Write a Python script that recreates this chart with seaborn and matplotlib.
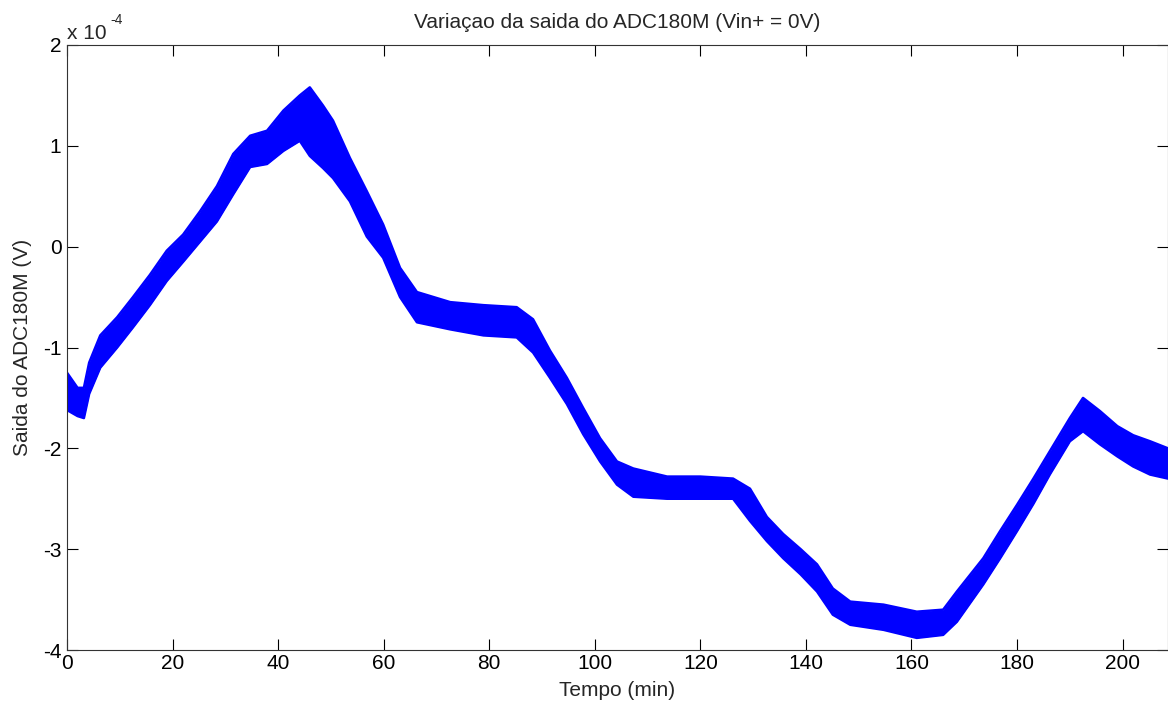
import matplotlib
matplotlib.use("Agg")
import matplotlib.pyplot as plt
import seaborn as sns
import pandas as pd

# tempo (min) and band edges of the ADC output, in units of 1e-4 V
tempo = [0, 2, 3.2, 4.2, 6.3, 9.5, 12.5, 15.7, 18.9, 22,
         25.2, 28.4, 31.5, 34.7, 37.9, 41, 44.1, 46, 48.5, 50.4,
         53.6, 56.8, 59.9, 63.1, 66.3, 72.6, 78.9, 85.2, 88.3, 91.5,
         94.7, 97.8, 101, 104.2, 107.3, 113.7, 120, 126.2, 129.4, 132.6,
         135.7, 139, 142.1, 145.1, 148.4, 154.7, 161, 166, 168.6, 173.6,
         176.8, 180, 183.1, 186.2, 190, 192.5, 195.7, 199, 202, 205.2,
         208.6]
saida_max = [-1.25, -1.40, -1.40, -1.15, -0.88, -0.70, -0.50, -0.28, -0.04, 0.12,
             0.35, 0.60, 0.92, 1.10, 1.15, 1.35, 1.50, 1.58, 1.40, 1.25,
             0.88, 0.55, 0.22, -0.21, -0.45, -0.55, -0.58, -0.60, -0.72, -1.03,
             -1.30, -1.60, -1.90, -2.13, -2.20, -2.28, -2.28, -2.30, -2.40, -2.68,
             -2.85, -3.00, -3.15, -3.39, -3.52, -3.55, -3.62, -3.60, -3.42, -3.09,
             -2.82, -2.56, -2.30, -2.03, -1.70, -1.50, -1.63, -1.78, -1.87, -1.93,
             -2.00]
saida_min = [-1.62, -1.68, -1.70, -1.46, -1.20, -1.00, -0.80, -0.58, -0.34, -0.15,
             0.05, 0.25, 0.52, 0.79, 0.82, 0.95, 1.05, 0.90, 0.78, 0.68,
             0.45, 0.10, -0.11, -0.50, -0.75, -0.82, -0.88, -0.90, -1.05, -1.30,
             -1.56, -1.86, -2.13, -2.36, -2.48, -2.50, -2.50, -2.50, -2.72, -2.92,
             -3.09, -3.25, -3.42, -3.65, -3.75, -3.80, -3.88, -3.85, -3.72, -3.35,
             -3.09, -2.82, -2.55, -2.26, -1.93, -1.83, -1.96, -2.08, -2.18, -2.26,
             -2.30]

x_ticks = [0, 20, 40, 60, 80, 100, 120, 140, 160, 180, 200]
y_ticks = [-4, -3, -2, -1, 0, 1, 2]

df = pd.DataFrame({"tempo": tempo, "max": saida_max, "min": saida_min})

sns.set_style("ticks")
plt.rcParams["font.family"] = ["Liberation Sans", "DejaVu Sans"]
plt.rcParams["axes.unicode_minus"] = False

fig = plt.figure(figsize=(11.68, 7.02), dpi=100)
ax = fig.add_axes([67 / 1168, 52 / 702, 1 - 67 / 1168, 605 / 702])

sns.lineplot(data=df, x="tempo", y="max", ax=ax, color="#0000ff", lw=1.8)
sns.lineplot(data=df, x="tempo", y="min", ax=ax, color="#0000ff", lw=1.8)
ax.fill_between(df["tempo"], df["min"], df["max"], color="#0000ff", lw=0)

ax.set_xlim(0, 208.6)
ax.set_ylim(-4, 2)
ax.set_xticks(x_ticks)
ax.set_yticks(y_ticks)
ax.tick_params(direction="in", length=8, width=0.8, top=True, right=True,
               labelsize=15, colors="black", pad=3)
ax.tick_params(axis="y", pad=4)
for s in ax.spines.values():
    s.set_visible(True)
    s.set_color("#333333")
    s.set_linewidth(0.8)

ax.set_title("Variaçao da saida do ADC180M (Vin+ = 0V)", fontsize=15, pad=12)
ax.set_xlabel("Tempo (min)", fontsize=15, labelpad=6)
ax.set_ylabel("Saida do ADC180M (V)", fontsize=15, labelpad=8)
ax.text(0.0, 1.004, "x 10", transform=ax.transAxes, fontsize=15,
        ha="left", va="bottom")
ax.text(0.0395, 1.03, "-4", transform=ax.transAxes, fontsize=10,
        ha="left", va="bottom")

fig.savefig("out.png", dpi=100)
